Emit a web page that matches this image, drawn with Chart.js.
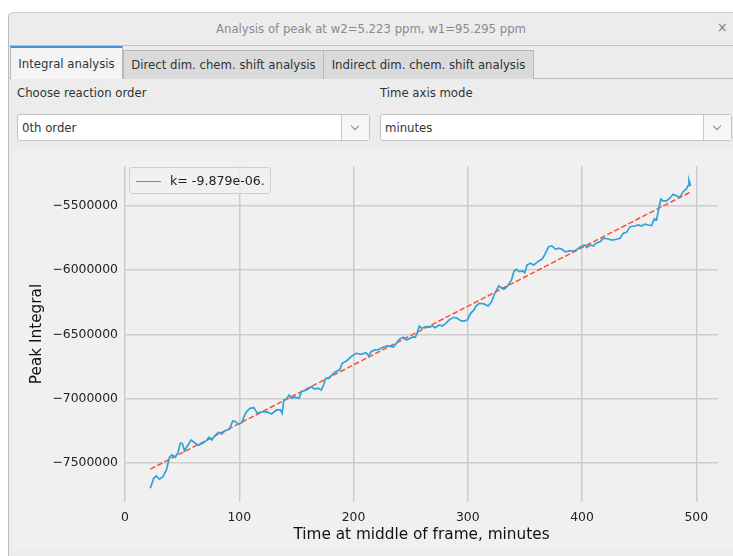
<!DOCTYPE html>
<html>
<head>
<meta charset="utf-8">
<script src="https://cdn.jsdelivr.net/npm/chart.js@4/dist/chart.umd.min.js"></script>
<style>
  html, body { margin: 0; padding: 0; background: #ffffff; }
  body { width: 733px; height: 556px; position: relative; overflow: hidden;
         font-family: "DejaVu Sans Condensed", "DejaVu Sans", sans-serif; font-stretch: condensed; font-size: 13px; color: #2e3436; }
  .abs { position: absolute; box-sizing: border-box; }
  #win { left: 8px; top: 12px; width: 740px; height: 560px; background: #ececec;
         border-left: 1px solid #bdbdbd; border-top: 1px solid #d0d0d0; border-top-left-radius: 5px; }
  #titlebar { left: 9px; top: 13px; width: 724px; height: 33px; border-bottom: 1px solid #c2c2c2;
              text-align: center; line-height: 31px; color: #8a8a8a; }
  #close { left: 717px; top: 19px; color: #7a7a7a; font-size: 14px; }
  .tab { top: 50px; height: 29px; background: #dadada; border: 1px solid #b8b8b8; border-bottom: none;
         text-align: center; line-height: 27px; color: #2e3436; }
  .tab.active { top: 46px; height: 33px; background: #f4f4f4; border-top: 2px solid #4a90d9; line-height: 31px; z-index: 2; }
  #tabline { left: 9px; top: 78px; width: 724px; height: 1px; background: #b8b8b8; }
  .lbl { top: 85px; line-height: 16px; }
  .combo { top: 114px; height: 27px; background: #fff; border: 1px solid #c3c3c3; border-radius: 3px;
           line-height: 25px; padding-left: 4px; }
  .combo .btn { position: absolute; top: 0; right: 0; width: 27px; height: 25px; border-left: 1px solid #c9c9c9;
                background: #f6f6f6; }
  .combo .btn::after { content: ''; position: absolute; left: 10px; top: 8px; width: 5px; height: 5px;
                       border-right: 1.3px solid #8a8a8a; border-bottom: 1.3px solid #8a8a8a; transform: rotate(45deg); }
  #plotbox { left: 12px; top: 150px; width: 721px; height: 400px; background: #f0f0f0; }
  #legend { left: 129px; top: 167px; width: 142px; height: 27px; border: 1px solid #cfcfcf; border-radius: 3px;
            background: rgba(240,240,240,0.85); font-family: "DejaVu Sans", sans-serif; font-stretch: normal; font-size: 12.6px; color: #222; z-index: 3; }
  #legend .swatch { position: absolute; left: 6px; top: 13px; width: 25px; height: 0; border-top: 1.8px solid #30a2da; }
  #legend .txt { position: absolute; left: 40px; top: 5px; line-height: 15px; }
</style>
</head>
<body>
<div id="win" class="abs"></div>
<div id="titlebar" class="abs">Analysis of peak at w2=5.223 ppm, w1=95.295 ppm</div>
<div id="close" class="abs">×</div>
<div id="tabline" class="abs"></div>
<div class="abs tab active" style="left:10px;width:113px;">Integral analysis</div>
<div class="abs tab" style="left:123px;width:201px;">Direct dim. chem. shift analysis</div>
<div class="abs tab" style="left:323px;width:211px;">Indirect dim. chem. shift analysis</div>
<div class="abs lbl" style="left:17px;">Choose reaction order</div>
<div class="abs lbl" style="left:380px;">Time axis mode</div>
<div class="abs combo" style="left:17px;width:353px;">0th order<div class="btn"></div></div>
<div class="abs combo" style="left:380px;width:352px;">minutes<div class="btn"></div></div>
<div id="plotbox" class="abs"><canvas id="peak-chart" width="721" height="400"></canvas></div>
<div id="legend" class="abs"><span class="swatch"></span><span class="txt" id="legend-text"></span></div>

<script>
// --- datos ---
const timeMinutes = [
  22.2, 25.1, 27.4, 30.1, 33.3, 36.2, 39.0, 41.1, 44.0, 46.4,
  48.4, 50.1, 52.1, 54.2, 57.9, 60.8, 64.3, 68.7, 71.6, 73.6,
  76.0, 78.0, 81.7, 84.7, 87.6, 91.3, 94.3, 96.9, 99.2, 102.1,
  105.9, 109.4, 112.8, 115.7, 118.7, 123.9, 128.3, 132.6, 136.1, 137.5,
  139.0, 141.3, 143.6, 145.7, 148.6, 152.3, 154.4, 158.8, 163.1, 166.0,
  168.9, 171.8, 173.8, 175.6, 178.5, 181.9, 185.4, 187.8, 190.1, 194.1,
  198.0, 202.3, 206.7, 211.0, 213.3, 215.4, 218.3, 221.2, 224.1, 227.0,
  229.9, 235.0, 240.2, 243.7, 246.7, 251.8, 254.1,
  256.1, 257.5, 259.8, 263.3, 266.2, 269.1, 271.4, 274.9, 277.8, 280.8,
  284.2, 288.0, 290.9, 293.8, 296.7, 299.6, 302.5, 305.4, 306.9, 309.8,
  314.1, 317.9, 320.8, 323.7, 327.2, 328.7, 331.6, 334.4,
  338.3, 340.3, 342.3, 345.2, 348.1, 349.9, 351.9, 354.8, 357.7, 361.4,
  364.9, 367.3, 370.8, 373.6, 377.1, 379.5, 382.4, 385.3, 389.7, 394.0,
  396.9, 399.8, 402.1, 404.2, 407.1, 410.0, 412.0, 415.8, 418.7, 423.1,
  425.9, 430.3, 433.2, 436.1, 439.0, 442.0, 446.3, 449.2, 452.1, 455.0,
  457.9, 460.8, 463.2, 465.2, 467.2, 469.0, 471.0, 473.9, 476.8, 479.7,
  482.6, 485.6, 488.4, 491.3, 492.8, 493.6, 495.1
];
const peakIntegral = [
  -7696000, -7619000, -7601000, -7626000, -7606000, -7554000, -7455000, -7437000, -7455000, -7419000,
  -7346000, -7346000, -7404000, -7373000, -7321000, -7342000, -7362000, -7342000, -7321000, -7300000,
  -7321000, -7295000, -7261000, -7274000, -7248000, -7237000, -7173000, -7178000, -7198000, -7186000,
  -7105000, -7074000, -7069000, -7113000, -7103000, -7100000, -7118000, -7087000, -7087000, -7113000,
  -7009000, -7004000, -6970000, -6996000, -6988000, -6996000, -6945000, -6932000, -6906000, -6924000,
  -6918000, -6932000, -6893000, -6841000, -6841000, -6807000, -6784000, -6776000, -6724000, -6704000,
  -6672000, -6646000, -6654000, -6641000, -6667000, -6634000, -6620000, -6620000, -6607000, -6595000,
  -6589000, -6597000, -6537000, -6522000, -6543000, -6519000, -6522000,
  -6478000, -6434000, -6452000, -6439000, -6444000, -6434000, -6447000, -6426000, -6434000, -6413000,
  -6382000, -6366000, -6374000, -6392000, -6395000, -6387000, -6335000, -6309000, -6283000, -6257000,
  -6262000, -6278000, -6245000, -6179000, -6122000, -6133000, -6148000, -6128000,
  -6076000, -6011000, -5993000, -6011000, -6006000, -6019000, -5959000, -5946000, -5959000, -5933000,
  -5915000, -5881000, -5817000, -5811000, -5837000, -5829000, -5837000, -5856000, -5850000, -5848000,
  -5829000, -5811000, -5803000, -5824000, -5803000, -5811000, -5790000, -5778000, -5751000, -5757000,
  -5765000, -5759000, -5751000, -5712000, -5705000, -5661000, -5656000, -5648000, -5656000, -5642000,
  -5648000, -5653000, -5601000, -5609000, -5518000, -5446000, -5461000, -5461000, -5440000, -5409000,
  -5420000, -5435000, -5389000, -5368000, -5342000, -5298000, -5342000
];
// recta del ajuste (extremos)
const fitTime = [22.2, 495.4];
const fitIntegral = [-7547000, -5389000];

const legendLabel = 'k= -9.879e-06.';
const xTickValues = [0, 100, 200, 300, 400, 500];
const yTickValues = [-7500000, -7000000, -6500000, -6000000, -5500000];

// --- grafica ---
const tickFont = { family: 'DejaVu Sans', size: 12.4 };
const titleFont = { family: 'DejaVu Sans', size: 15.3 };
const gridColor = '#cccccc';

const ctx = document.getElementById('peak-chart').getContext('2d');
const peakChart = new Chart(ctx, {
  type: 'scatter',
  data: {
    datasets: [
      {
        label: legendLabel,
        data: timeMinutes.map((t, i) => ({ x: t, y: peakIntegral[i] })),
        showLine: true,
        borderColor: '#30a2da',
        borderWidth: 1.7,
        pointRadius: 0,
        tension: 0
      },
      {
        label: 'fit',
        data: fitTime.map((t, i) => ({ x: t, y: fitIntegral[i] })),
        showLine: true,
        borderColor: '#fc4f30',
        borderWidth: 1.5,
        borderDash: [5.5, 2.4],
        pointRadius: 0
      }
    ]
  },
  options: {
    responsive: false,
    animation: false,
    layout: { padding: { top: 16, right: 15, left: 0, bottom: 0 } },
    plugins: { legend: { display: false }, tooltip: { enabled: false } },
    scales: {
      x: {
        type: 'linear',
        min: 0,
        max: 519,
        afterBuildTicks: s => { s.ticks = xTickValues.map(v => ({ value: v })); },
        afterFit: s => { s.height = 48; },
        ticks: { font: tickFont, color: '#222', padding: 8, maxRotation: 0 },
        grid: { color: gridColor, lineWidth: 1.5, drawTicks: false },
        border: { display: false },
        title: { display: true, text: 'Time at middle of frame, minutes', font: titleFont, color: '#111', padding: { top: 0, bottom: 5.5 } }
      },
      y: {
        type: 'linear',
        min: -7803000,
        max: -5189000,
        afterBuildTicks: s => { s.ticks = yTickValues.map(v => ({ value: v })); },
        afterFit: s => { s.width = 113; },
        ticks: {
          font: tickFont, color: '#222', padding: 7,
          callback: v => (v < 0 ? '\u2212' : '') + Math.abs(v)
        },
        grid: { color: gridColor, lineWidth: 1.5, drawTicks: false },
        border: { display: false },
        title: { display: true, text: 'Peak Integral', font: titleFont, color: '#111', padding: { top: 15.5, bottom: 0 } }
      }
    }
  }
});

document.getElementById('legend-text').textContent = peakChart.data.datasets[0].label;
</script>
</body>
</html>
